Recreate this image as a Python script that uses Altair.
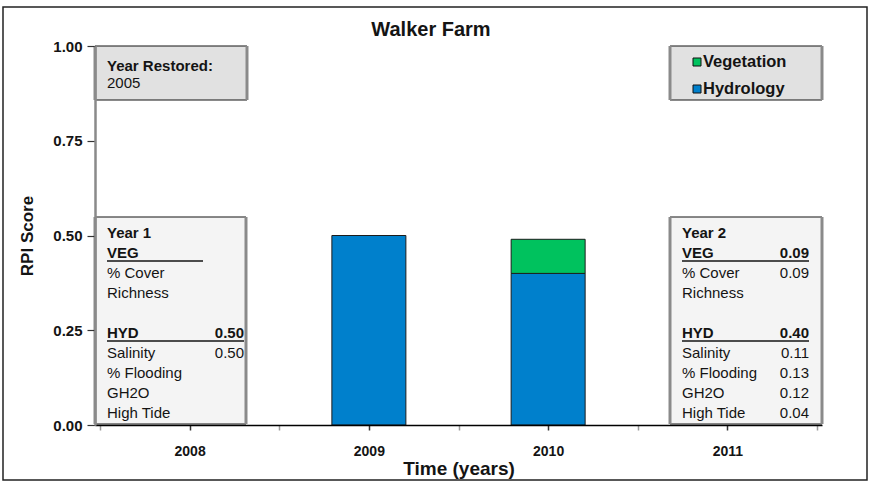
import altair as alt
import pandas as pd

FONT = "Liberation Sans"
INK = "#141414"

# RPI scores by sampling year
years = [2008, 2009, 2010, 2011]
hydrology = [None, 0.50, 0.40, None]
vegetation = [None, None, 0.09, None]

components = ["Vegetation", "Hydrology"]
component_colors = ["#00C25E", "#0080CC"]

y_ticks = [0.0, 0.25, 0.50, 0.75, 1.0]

chart_title = "Walker Farm"
restored_label = "Year Restored:"
restored_year = "2005"

# metric breakdown panels
panel_rows = ["VEG", "% Cover", "Richness", "", "HYD", "Salinity", "% Flooding", "GH2O", "High Tide"]
panel_bold = [True, False, False, False, True, False, False, False, False]
year1_title = "Year 1"
year1_scores = ["", "", "", "", "0.50", "0.50", "", "", ""]
year2_title = "Year 2"
year2_scores = ["0.09", "0.09", "", "", "0.40", "0.11", "0.13", "0.12", "0.04"]

rows = []
for yr, h, v in zip(years, hydrology, vegetation):
    if h is not None:
        rows.append({"year": yr, "component": "Hydrology", "score": h, "stack": 0})
    if v is not None:
        rows.append({"year": yr, "component": "Vegetation", "score": v, "stack": 1})
bars_df = pd.DataFrame(rows)

# page layout (pixels)
LEFT, TOP = 95, 46
PLOT_W, PLOT_H = 727, 379
TOTAL_W, TOTAL_H = 874, 484
BODY = 15


def px(x):
    return x - LEFT


def py(y):
    return y - TOP


ONE = alt.InlineData(values=[{"k": 0}])


def text(t, x, y, size=BODY, bold=False, align="left", color=INK):
    return alt.Chart(ONE).mark_text(
        align=align, baseline="middle", font=FONT, fontSize=size,
        fontWeight="bold" if bold else "normal", color=color,
    ).encode(x=alt.value(px(x)), y=alt.value(py(y)), text=alt.value(t))


def hrule(x1, x2, y, color=INK, w=1.2):
    return alt.Chart(ONE).mark_rule(color=color, strokeWidth=w).encode(
        x=alt.value(px(x1)), x2=alt.value(px(x2)), y=alt.value(py(y)))


def vrule(x, y1, y2, color="#8a8a8a", w=3):
    return alt.Chart(ONE).mark_rule(color=color, strokeWidth=w).encode(
        x=alt.value(px(x)), y=alt.value(py(y1)), y2=alt.value(py(y2)))


def box(x1, y1, x2, y2, fill):
    rect = alt.Chart(ONE).mark_rect(fill=fill).encode(
        x=alt.value(px(x1)), x2=alt.value(px(x2)),
        y=alt.value(py(y1)), y2=alt.value(py(y2)))
    return [rect, hrule(x1, x2, y1), hrule(x1, x2, y2),
            vrule(x1, y1, y2), vrule(x2, y1, y2)]


layers = []

# outer frame
layers.append(alt.Chart(ONE).mark_rect(fill=None, stroke="#222", strokeWidth=1.5).encode(
    x=alt.value(px(3)), x2=alt.value(px(867)), y=alt.value(py(7)), y2=alt.value(py(480))))

# stacked bars
bars = alt.Chart(bars_df).mark_bar(size=74, stroke="#1c1c1c", strokeWidth=1).encode(
    x=alt.X("year:Q",
            scale=alt.Scale(domain=[2007.5, 2011.5], nice=False, zero=False),
            axis=alt.Axis(
                values=[2007.5 + 0.5 * i for i in range(9)],
                labelExpr="datum.value % 1 === 0 ? toString(datum.value) : ''",
                labelOverlap=False, labelFlush=False,
                title="Time (years)", titleY=43, titleBaseline="middle",
                titleFontSize=19, titleFont=FONT, titleFontWeight="bold", titleColor=INK,
                labelFont=FONT, labelFontSize=14, labelFontWeight="bold", labelColor=INK,
                labelPadding=14, tickSize=5, tickWidth=1.5,
                tickColor={"condition": {"test": "datum.value % 1 === 0", "value": "#333"},
                           "value": "#9a9a9a"},
                domainColor="#000", domainWidth=1.5, grid=False, zindex=1)),
    y=alt.Y("score:Q", stack="zero",
            scale=alt.Scale(domain=[0, 1], nice=False),
            axis=alt.Axis(
                values=y_ticks, format=".2f",
                title="RPI Score", titleX=-68, titleY=PLOT_H / 2, titleAngle=-90,
                titleAlign="center", titleBaseline="middle",
                titleFontSize=17, titleFont=FONT, titleFontWeight="bold", titleColor=INK,
                labelFont=FONT, labelFontSize=15, labelFontWeight="bold", labelColor=INK,
                labelPadding=5, tickSize=8, tickWidth=1.2, tickColor="#333",
                domainColor="#8a8a8a", domainWidth=2.5, grid=False, zindex=1)),
    color=alt.Color("component:N",
                    scale=alt.Scale(domain=components, range=component_colors),
                    legend=None),
    order=alt.Order("stack:Q"),
)
layers.append(bars)

# title
layers.append(text(chart_title, 431, 30, size=20, bold=True, align="center"))

# restoration box
layers += box(95, 46, 247, 100, "#E1E1E1")
layers.append(text(restored_label, 107, 66, bold=True))
layers.append(text(restored_year, 107, 83))

# legend box
layers += box(670, 46, 822, 100, "#E1E1E1")
for i, (name, col) in enumerate(zip(components, component_colors)):
    yc = 62 + 27 * i
    layers.append(alt.Chart(ONE).mark_square(size=64, fill=col, opacity=1,
                                             stroke="#111", strokeWidth=1).encode(
        x=alt.value(px(697)), y=alt.value(py(yc))))
    layers.append(text(name, 703, yc, size=16.5, bold=True))


def panel(x1, x2, title, scores, value_right, veg_line_end):
    out = box(x1, 217, x2, 424, "#F4F4F4")
    tx = x1 + 12
    out.append(text(title, tx, 233, bold=True))
    for i, (label, bold, val) in enumerate(zip(panel_rows, panel_bold, scores)):
        yc = 253 + 20 * i
        if label:
            out.append(text(label, tx, yc, bold=bold))
        if val:
            out.append(text(val, value_right, yc, bold=bold, align="right"))
        if bold:
            end = veg_line_end if label == "VEG" else value_right
            out.append(hrule(tx, end, yc + 8, w=1.3))
    return out


layers += panel(95, 246, year1_title, year1_scores, 244, 203)
layers += panel(670, 822, year2_title, year2_scores, 809, 809)

chart = alt.layer(*layers).properties(
    width=PLOT_W, height=PLOT_H,
    padding={"left": LEFT, "top": TOP, "right": TOTAL_W - LEFT - PLOT_W,
             "bottom": TOTAL_H - TOP - PLOT_H},
    autosize=alt.AutoSizeParams(type="none"),
    background="white",
).configure_view(stroke=None)

chart.save("out.html", embed_options={"renderer": "svg", "actions": False})
